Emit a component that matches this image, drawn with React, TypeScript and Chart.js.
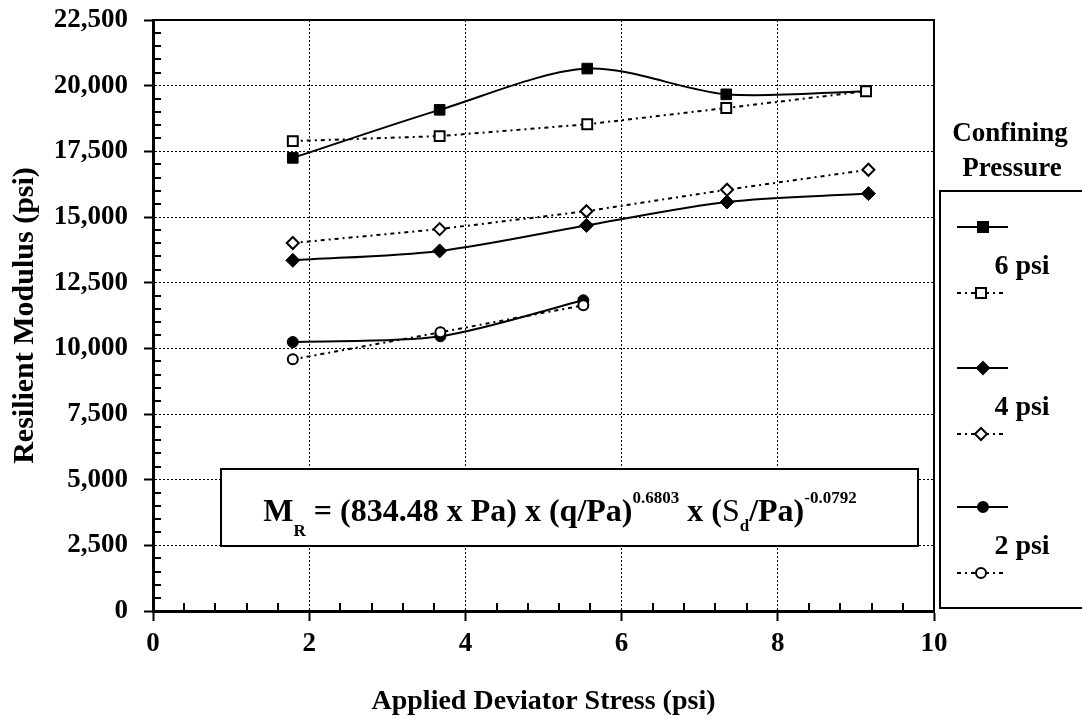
import React, { useEffect, useRef } from 'react';
import { Chart, registerables } from 'chart.js';

Chart.register(...registerables);

// ---- data ----
const stress6 = [1.79, 3.67, 5.56, 7.34, 9.13];
const mr6Solid = [17250, 19080, 20650, 19670, 19790];
const mr6Dotted = [17890, 18080, 18530, 19150, 19790];
const stress4 = [1.79, 3.67, 5.55, 7.35, 9.16];
const mr4Solid = [13350, 13710, 14680, 15570, 15890];
const mr4Dotted = [14010, 14540, 15220, 16040, 16800];
const stress2 = [1.79, 3.68, 5.51];
const mr2Solid = [10240, 10460, 11830];
const mr2Dotted = [9580, 10610, 11640];

const legendLabels = ['6 psi', '4 psi', '2 psi'];
const legendTitle = ['Confining', 'Pressure'];
const xTitle = 'Applied Deviator Stress (psi)';
const yTitle = 'Resilient Modulus (psi)';
const xMin = 0, xMax = 10, xStep = 2, xMinorStep = 0.4;
const yMin = 0, yMax = 22500, yStep = 2500, yMinorStep = 500;

const FONT = "'Liberation Serif', 'Times New Roman', Times, serif";
const DOT = [4, 4, 2, 4];

function pts(xs: number[], ys: number[]) {
  return xs.map((x, i) => ({ x, y: ys[i] }));
}

function drawMarker(ctx: CanvasRenderingContext2D, shape: string, x: number, y: number, filled: boolean) {
  ctx.save();
  ctx.setLineDash([]);
  ctx.lineWidth = 2;
  ctx.strokeStyle = '#000';
  ctx.fillStyle = filled ? '#000' : '#fff';
  ctx.beginPath();
  if (shape === 'rect') {
    ctx.rect(x - 5, y - 5, 10, 10);
  } else if (shape === 'rectRot') {
    ctx.moveTo(x - 6, y);
    ctx.lineTo(x, y - 6);
    ctx.lineTo(x + 6, y);
    ctx.lineTo(x, y + 6);
    ctx.closePath();
  } else {
    ctx.arc(x, y, 5, 0, Math.PI * 2);
  }
  ctx.fill();
  ctx.stroke();
  ctx.restore();
}

const decorPlugin = {
  id: 'decor',
  afterDraw(chart: any) {
    const { ctx, chartArea: a, scales } = chart;
    const xs = scales.x, ys = scales.y;
    ctx.save();
    ctx.setLineDash([]);
    ctx.strokeStyle = '#000';
    // minor ticks (inside)
    ctx.lineWidth = 2;
    ctx.beginPath();
    const nY = Math.round((yMax - yMin) / yMinorStep);
    for (let i = 1; i < nY; i++) {
      const v = yMin + i * yMinorStep;
      if (v % yStep === 0) continue;
      const py = Math.round(ys.getPixelForValue(v));
      ctx.moveTo(a.left, py);
      ctx.lineTo(a.left + 8, py);
    }
    const nX = Math.round((xMax - xMin) / xMinorStep);
    const per = Math.round(xStep / xMinorStep);
    for (let i = 1; i < nX; i++) {
      if (i % per === 0) continue;
      const px = Math.round(xs.getPixelForValue(xMin + i * xMinorStep));
      ctx.moveTo(px, a.bottom);
      ctx.lineTo(px, a.bottom - 8);
    }
    ctx.stroke();
    // top and right frame
    ctx.lineWidth = 2;
    ctx.beginPath();
    ctx.moveTo(a.left, a.top);
    ctx.lineTo(a.right, a.top);
    ctx.lineTo(a.right, a.bottom);
    ctx.stroke();

    // equation box
    ctx.fillStyle = '#fff';
    ctx.fillRect(221, 469, 697, 77);
    ctx.lineWidth = 2;
    ctx.strokeRect(221, 469, 697, 77);

    const F = 32, f = 17;
    const segs: [string, string, number, number][] = [
      ['M', 'bold', F, 0],
      ['R', 'bold', f, 15],
      [' = (834.48 x Pa) x (q/Pa)', 'bold', F, 0],
      ['0.6803', 'bold', f, -18],
      [' x (', 'bold', F, 0],
      ['S', 'normal', F, 0],
      ['d', 'bold', f, 10],
      ['/Pa)', 'bold', F, 0],
      ['-0.0792', 'bold', f, -18],
    ];
    let total = 0;
    for (const [t, w, s] of segs) {
      ctx.font = `${w} ${s}px ${FONT}`;
      total += ctx.measureText(t).width;
    }
    let cx = 560 - total / 2;
    const base = 521;
    ctx.fillStyle = '#000';
    ctx.textBaseline = 'alphabetic';
    ctx.textAlign = 'left';
    for (const [t, w, s, off] of segs) {
      ctx.font = `${w} ${s}px ${FONT}`;
      ctx.fillText(t, cx, base + off);
      cx += ctx.measureText(t).width;
    }

    // legend title
    ctx.font = `bold 27px ${FONT}`;
    ctx.textAlign = 'center';
    ctx.textBaseline = 'middle';
    ctx.fillText(legendTitle[0], 1010, 134);
    ctx.fillText(legendTitle[1], 1012, 169);

    // legend box
    ctx.lineWidth = 2;
    ctx.strokeRect(940, 191, 160, 417);

    const groups = [
      { shape: 'rect', y: 227 },
      { shape: 'rectRot', y: 368 },
      { shape: 'circle', y: 507 },
    ];
    groups.forEach((g, i) => {
      ctx.setLineDash([]);
      ctx.lineWidth = 2;
      ctx.beginPath();
      ctx.moveTo(957, g.y);
      ctx.lineTo(1008, g.y);
      ctx.stroke();
      drawMarker(ctx, g.shape, 983, g.y, true);
      ctx.fillStyle = '#000';
      ctx.font = `bold 28px ${FONT}`;
      ctx.textAlign = 'center';
      ctx.textBaseline = 'middle';
      ctx.fillText(legendLabels[i], 1022, g.y + 40);
      const dy = g.y + 66;
      ctx.setLineDash(DOT);
      ctx.beginPath();
      ctx.moveTo(957, dy);
      ctx.lineTo(1005, dy);
      ctx.stroke();
      drawMarker(ctx, g.shape, 981, dy, false);
    });
    ctx.restore();
  },
};

export default function App() {
  const ref = useRef<HTMLCanvasElement>(null);
  useEffect(() => {
    if (!ref.current) return;
    const solid = (label: string, data: any, shape: string, r: number) => ({
      label,
      data,
      borderColor: '#000',
      backgroundColor: '#000',
      borderWidth: 2,
      tension: 0.3,
      pointStyle: shape,
      pointRadius: r,
      pointBackgroundColor: '#000',
      pointBorderColor: '#000',
      pointBorderWidth: 1,
      order: 2,
    });
    const dotted = (label: string, data: any, shape: string, r: number) => ({
      label,
      data,
      borderColor: '#000',
      backgroundColor: '#fff',
      borderWidth: 2,
      borderDash: DOT,
      tension: 0,
      pointStyle: shape,
      pointRadius: r,
      pointBackgroundColor: '#fff',
      pointBorderColor: '#000',
      pointBorderWidth: 2,
      order: 1,
    });
    const chart = new Chart(ref.current, {
      type: 'line',
      data: {
        datasets: [
          solid('6 psi', pts(stress6, mr6Solid), 'rect', 7.5),
          dotted('6 psi ', pts(stress6, mr6Dotted), 'rect', 7),
          solid('4 psi', pts(stress4, mr4Solid), 'rectRot', 7),
          dotted('4 psi ', pts(stress4, mr4Dotted), 'rectRot', 6),
          solid('2 psi', pts(stress2, mr2Solid), 'circle', 5.5),
          dotted('2 psi ', pts(stress2, mr2Dotted), 'circle', 5),
        ] as any,
      },
      options: {
        responsive: false,
        animation: false,
        layout: { padding: { top: 20, right: 148, left: 0, bottom: 0 } },
        plugins: { legend: { display: false }, tooltip: { enabled: false } },
        scales: {
          x: {
            type: 'linear',
            min: xMin,
            max: xMax,
            afterFit: (s: any) => { s.height = 108; s.paddingLeft = 0; s.paddingRight = 0; },
            ticks: {
              stepSize: xStep,
              color: '#000',
              padding: 7,
              font: { family: FONT, size: 27, weight: 'bold' },
            },
            grid: {
              color: '#000',
              lineWidth: 1,
              drawTicks: true,
              tickLength: 10,
              tickWidth: 2,
              tickColor: '#000',
              tickBorderDash: [],
            },
            border: { display: true, color: '#000', width: 3, dash: [2, 2] },
            title: {
              display: true,
              text: xTitle,
              color: '#000',
              padding: { top: 0, bottom: 0 },
              font: { family: FONT, size: 28, weight: 'bold', lineHeight: 1.2 },
            },
          },
          y: {
            type: 'linear',
            min: yMin,
            max: yMax,
            afterFit: (s: any) => { s.width = 153; s.paddingTop = 0; s.paddingBottom = 0; },
            ticks: {
              stepSize: yStep,
              color: '#000',
              padding: 16,
              font: { family: FONT, size: 27, weight: 'bold' },
              callback: (v: any) => Number(v).toLocaleString('en-US'),
            },
            grid: {
              color: '#000',
              lineWidth: 1,
              drawTicks: true,
              tickLength: 9,
              tickWidth: 2,
              tickColor: '#000',
              tickBorderDash: [],
            },
            border: { display: true, color: '#000', width: 3, dash: [2, 2] },
            title: {
              display: true,
              text: yTitle,
              color: '#000',
              padding: { top: 7, bottom: 0 },
              font: { family: FONT, size: 30, weight: 'bold', lineHeight: 1.2 },
            },
          },
        },
      } as any,
      plugins: [decorPlugin],
    });
    return () => chart.destroy();
  }, []);
  return (
    <div style={{ position: 'fixed', left: 0, top: 0, width: 1082, height: 719, background: '#fff' }}>
      <canvas ref={ref} width={1082} height={719} style={{ display: 'block' }} />
    </div>
  );
}
